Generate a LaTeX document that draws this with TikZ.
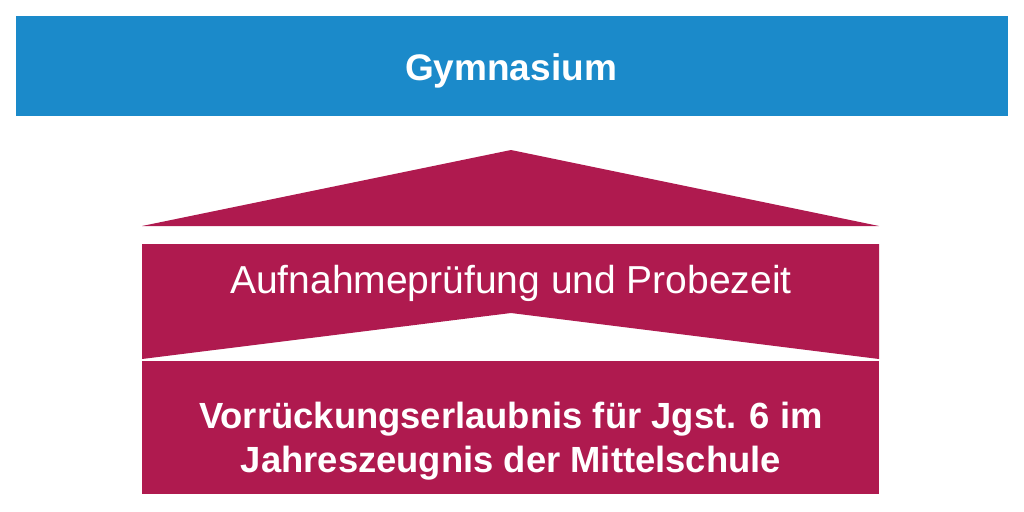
\documentclass[tikz,border=0pt]{standalone}
\usepackage{fontspec}
\setmainfont{Liberation Sans}
\definecolor{gymBlue}{HTML}{1B8ACA}
\definecolor{schoolRed}{HTML}{AF1A4F}
\colorlet{boxTop}{gymBlue}
\colorlet{boxStep}{schoolRed}
\tikzset{label text/.style={white,anchor=base,align=center}}

\begin{document}
\begin{tikzpicture}[x=1pt,y=-1pt]
\useasboundingbox (0,0) rectangle (1024,511);
\fill[boxTop] (16,16) rectangle (1008,116);
\fill[boxStep] (142,226) -- (511,150) -- (879,226) -- cycle;
\fill[boxStep] (142,244) -- (879,244) -- (879,359) -- (511,313) -- (142,359) -- cycle;
\fill[boxStep] (142,361) rectangle (879,494);
\node[label text,font=\bfseries\fontsize{37}{44}\selectfont] (gym) at (511,80) {Gymnasium};
\node[label text,font=\fontsize{39}{44}\selectfont] (probe) at (511,293) {Aufnahmeprüfung und Probezeit};
% base of a two-line node sits on its last line
\node[label text,font=\bfseries\fontsize{36.4}{44}\selectfont] (zeugnis) at (511,472)
  {Vorrückungserlaubnis für Jgst. 6 im\\Jahreszeugnis der Mittelschule};
\end{tikzpicture}
\end{document}
